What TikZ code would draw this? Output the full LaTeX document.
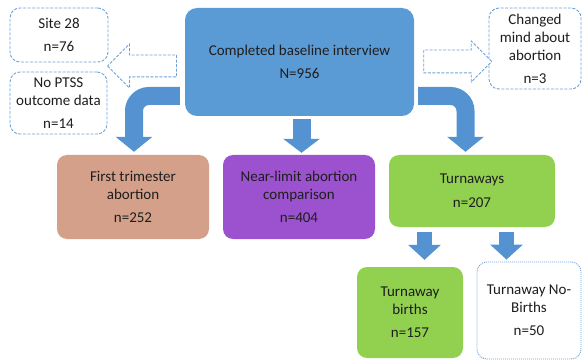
\documentclass[tikz,border=0pt]{standalone}
\usepackage{fontspec}
\setmainfont{Carlito}
\usepackage{tikz}
\usetikzlibrary{positioning, shapes.arrows, arrows.meta, calc}

\definecolor{boxblue}{HTML}{5B9BD5}
\definecolor{arrowblue}{HTML}{5592D2}
\definecolor{dashblue}{HTML}{6FA3D8}
\definecolor{salmonbox}{HTML}{D4A089}
\definecolor{purplebox}{HTML}{9C52CE}
\definecolor{greenbox}{HTML}{92D050}
\definecolor{inkgray}{HTML}{1E1E1E}

\begin{document}
\begin{tikzpicture}[x=1pt, y=-1pt,
    box/.style={rectangle, rounded corners=10pt, align=center, inner sep=0pt, text=inkgray, font=\fontsize{15}{18}\selectfont},
    dashbox/.style={box, draw=dashblue, fill=white, line width=0.9pt, dash pattern=on 3pt off 1.5pt},
    hollow/.style={single arrow, draw=dashblue, fill=white, line width=0.9pt, dash pattern=on 3pt off 1.5pt, inner sep=0pt, text depth=0pt},
    flow/.style={draw=arrowblue, line width=18pt, -{Triangle[width=36pt,length=15pt]}},
    flowsmall/.style={draw=arrowblue, line width=15pt, -{Triangle[width=32pt,length=15pt]}}]

    \useasboundingbox (0,0) rectangle (582,361);

    % main box
    \node[box, fill=boxblue, rounded corners=12pt, minimum width=229pt, minimum height=108pt] (base) at (299.5,62) {Completed baseline interview\\[5pt]N=956};

    % excluded
    \node[dashbox, minimum width=98pt, minimum height=54pt] (site) at (59,35) {Site 28\\[5pt]n=76};
    \node[dashbox, minimum width=97pt, minimum height=62pt] (nodata) at (58.5,103) {No PTSS\\outcome data\\[5pt]n=14};
    \node[dashbox, minimum width=92pt, minimum height=81pt] (changed) at (535,48.5) {Changed\\mind about\\abortion\\[5pt]n=3};

    % groups
    \node[box, fill=salmonbox, minimum width=152pt, minimum height=84pt] (first) at (133,197) {First trimester\\abortion\\[5pt]n=252};
    \node[box, fill=purplebox, minimum width=152pt, minimum height=84pt] (near) at (299,197) {Near-limit abortion\\comparison\\[5pt]n=404};
    \node[box, fill=greenbox, minimum width=166pt, minimum height=72pt] (turn) at (472,191) {Turnaways\\[6pt]n=207};
    \node[box, fill=greenbox, minimum width=106pt, minimum height=91pt] (tbirth) at (410,312.5) {Turnaway\\births\\[5pt]n=157};
    \node[dashbox, dash pattern=on 1pt off 1pt, minimum width=104pt, minimum height=97pt] (tnobirth) at (529,310.5) {Turnaway No-\\Births\\[5pt]n=50};

    % hollow arrows
    \node[hollow, text height=21pt, minimum height=69pt, single arrow head extend=11pt, shape border rotate=180] (toleft) at (147.5,66) {};
    \node[hollow, text height=22pt, minimum height=68pt, single arrow head extend=9pt] (toright) at (452,61.5) {};

    % flow arrows
    \draw[flow, rounded corners=15pt] ([xshift=-5pt,yshift=-34pt]base.west) -| ([xshift=1pt,yshift=3pt]first.north);
    \draw[flow, rounded corners=15pt] ([xshift=4pt,yshift=-34pt]base.east) -| ([xshift=-6.5pt,yshift=3pt]turn.north);
    \draw[flow, -{Triangle[width=36pt,length=14pt]}] ([xshift=2pt,yshift=-3pt]base.south) -- ([xshift=2.5pt,yshift=2pt]near.north);
    \draw[flowsmall] ([xshift=-47.5pt,yshift=-5pt]turn.south) -- ([xshift=14.5pt,yshift=7pt]tbirth.north);
    \draw[flowsmall] ([xshift=34.5pt,yshift=-5pt]turn.south) -- ([xshift=-22.5pt,yshift=2pt]tnobirth.north);

\end{tikzpicture}
\end{document}
